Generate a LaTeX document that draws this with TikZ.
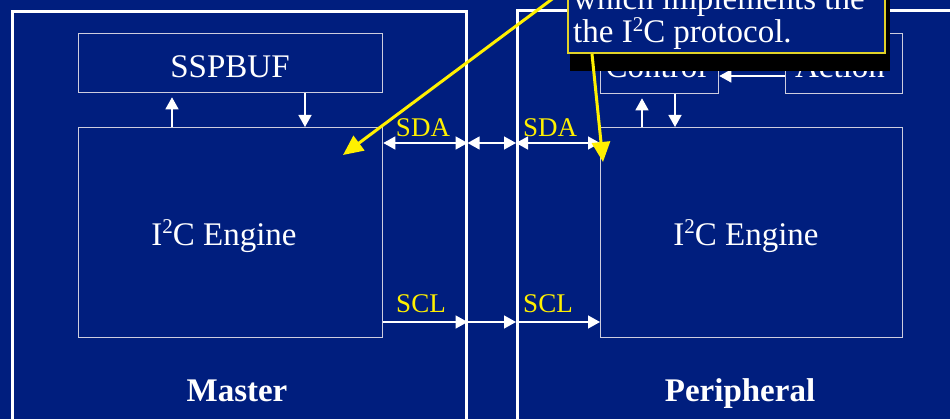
\documentclass[tikz,border=0pt]{standalone}
\usepackage{fontspec}
\setmainfont{Liberation Serif}
\usetikzlibrary{arrows.meta,calc}
\definecolor{navy}{RGB}{0,30,126}
\definecolor{boxline}{RGB}{205,205,222}
\definecolor{ylw}{RGB}{255,240,0}
\definecolor{calloutline}{RGB}{225,210,40}
\newcommand{\supTwo}{\raisebox{0.36em}{\fontsize{21}{21}\selectfont 2}}
\tikzset{
  obox/.style={draw=white, line width=2.6pt, inner sep=0pt, anchor=north west},
  ibox/.style={draw=boxline, line width=1.3pt, inner sep=0pt, anchor=north west},
  big/.style={text=white, font=\fontsize{33}{34}\selectfont, inner sep=0pt},
  bigbold/.style={text=white, font=\fontsize{33}{34}\selectfont\bfseries, inner sep=0pt, anchor=base},
  sig/.style={text=ylw, font=\fontsize{27}{28}\selectfont, inner sep=0pt, anchor=base},
  warr/.style={draw=white, line width=1.4pt, -{Triangle[length=12pt,width=13pt]}},
  dwarr/.style={draw=white, line width=1.4pt, {Triangle[length=12pt,width=13pt]}-{Triangle[length=12pt,width=13pt]}},
  yarr/.style={draw=ylw, line width=3pt, -{Triangle[length=20pt,width=18pt]}},
  callout/.style={draw=calloutline, line width=1.5pt, fill=navy, inner sep=0pt, anchor=south west},
}
\begin{document}
\begin{tikzpicture}[x=1pt, y=-1pt]
\path[use as bounding box, fill=navy] (0,0) rectangle (950,419);
\clip (0,0) rectangle (950,419);

% outer boxes
\node[obox, minimum width=454pt, minimum height=440pt] (master) at (11,10) {};
\node[obox, minimum width=460pt, minimum height=440pt] (periph) at (516,9) {};

% master side
\node[ibox, minimum width=304pt, minimum height=59pt] (sspbuf) at (78,33) {};
\node[big, anchor=base] (sspbuftxt) at (230,78) {SSPBUF};
\node[ibox, minimum width=304pt, minimum height=210pt] (meng) at (78,127) {};
\node[big] (mengtxt) at (224,236) {I\supTwo C Engine};
\draw[warr] ($(meng.north west)+(94,0)$) -- ($(sspbuf.south west)+(94,4)$);
\draw[warr] ($(sspbuf.south west)+(227,0)$) -- ($(meng.north west)+(227,0)$);

% peripheral side
\node[ibox, minimum width=118pt, minimum height=60pt] (control) at (600,33) {};
\node[big, anchor=base] (controltxt) at (656,78) {Control};
\node[ibox, minimum width=117pt, minimum height=60pt] (action) at (785,33) {};
\node[big, anchor=base] (actiontxt) at (840,78) {Action};
\node[ibox, minimum width=302pt, minimum height=210pt] (peng) at (600,127) {};
\node[big] (pengtxt) at (746,236) {I\supTwo C Engine};
\draw[warr] ($(action.north west)+(0,43)$) -- ($(control.north east)+(0,43)$);
\draw[warr] ($(peng.north west)+(42,0)$) -- ($(control.south west)+(42,4)$);
\draw[warr] ($(control.south west)+(75,0)$) -- ($(peng.north west)+(75,0)$);

% bus lines
\coordinate (sda) at (0,143);
\coordinate (scl) at (0,322);
\draw[dwarr] (meng.east |- sda) -- (master.east |- sda);
\draw[dwarr] (master.east |- sda) -- (periph.west |- sda);
\draw[dwarr] (periph.west |- sda) -- (peng.west |- sda);
\draw[warr] (meng.east |- scl) -- (master.east |- scl);
\draw[warr] (master.east |- scl) -- (periph.west |- scl);
\draw[warr] (periph.west |- scl) -- (peng.west |- scl);
\node[sig] (sda1) at (423,137) {SDA};
\node[sig] (sda2) at (550,137) {SDA};
\node[sig] (scl1) at (421,313) {SCL};
\node[sig] (scl2) at (548,313) {SCL};

% titles
\node[bigbold] (mastertxt) at (237,401) {Master};
\node[bigbold] (periphtxt) at (740,401) {Peripheral};

% callout
\fill[black] (570,-80) rectangle (890,71);
\node[callout, minimum width=317pt, minimum height=140pt] (note) at (567,54) {};
\node[big, anchor=base west] (noteA) at (573,10) {which implements the};
\node[big, anchor=base west] (noteB) at (573,43) {the I\supTwo C protocol.};
\coordinate (ya) at (567,-12);
\coordinate (yb) at (592,54);
\coordinate (ta) at (343,155);
\coordinate (tb) at (603,162);
\draw[yarr] (ya) -- (ta);
\draw[yarr] (yb) -- (tb);
\end{tikzpicture}
\end{document}
